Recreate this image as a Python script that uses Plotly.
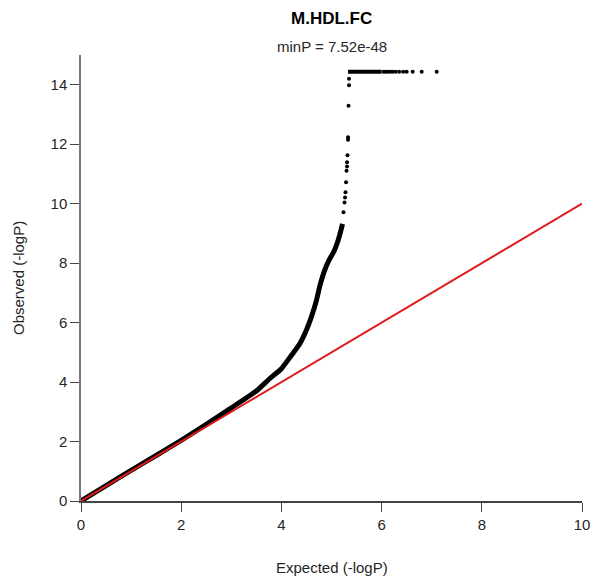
import plotly.graph_objects as go

# Dense part of the QQ curve (expected, observed)
band_expected = [0.0, 0.5, 1.0, 1.5, 2.0, 2.5, 3.0, 3.5, 3.77, 4.0, 4.2, 4.37, 4.5, 4.6, 4.7, 4.77, 4.85, 4.95, 5.05, 5.12, 5.18, 5.22]
band_observed = [0.0, 0.52, 1.03, 1.53, 2.04, 2.58, 3.13, 3.7, 4.12, 4.45, 4.9, 5.3, 5.75, 6.2, 6.75, 7.25, 7.7, 8.1, 8.4, 8.7, 9.05, 9.32]

# Sparse points in the steep tail
tail_expected = [5.24, 5.26, 5.27, 5.28, 5.29, 5.30, 5.31, 5.31, 5.32, 5.33, 5.33, 5.34, 5.35, 5.35]
tail_observed = [9.71, 10.04, 10.21, 10.38, 10.72, 11.11, 11.25, 11.39, 11.63, 12.15, 12.23, 13.29, 13.98, 14.2]

# Capped plateau
cap_value = 14.44
plateau_dense_expected = [5.33, 6.0]
plateau_sparse_expected = [6.04, 6.08, 6.12, 6.17, 6.22, 6.28, 6.35, 6.43, 6.5, 6.62, 6.8, 7.1]

ref_line = [0, 10]

title_text = "M.HDL.FC"
subtitle_text = "minP = 7.52e-48"
x_title = "Expected (-logP)"
y_title = "Observed (-logP)"
x_ticks = [0, 2, 4, 6, 8, 10]
y_ticks = [0, 2, 4, 6, 8, 10, 12, 14]

FONT = "Liberation Sans, Arial, sans-serif"
TXT = "#262626"
FS = 15

fig = go.Figure()
fig.add_trace(go.Scatter(x=band_expected, y=band_observed, mode="lines",
                         line=dict(color="black", width=5, shape="spline", smoothing=0.5),
                         cliponaxis=False, hoverinfo="skip"))
fig.add_trace(go.Scatter(x=plateau_dense_expected, y=[cap_value] * len(plateau_dense_expected), mode="lines",
                         line=dict(color="black", width=4), cliponaxis=False))
fig.add_trace(go.Scatter(x=plateau_sparse_expected, y=[cap_value] * len(plateau_sparse_expected), mode="markers",
                         marker=dict(color="black", size=4), cliponaxis=False))
fig.add_trace(go.Scatter(x=tail_expected, y=tail_observed, mode="markers",
                         marker=dict(color="black", size=4), cliponaxis=False))
fig.add_trace(go.Scatter(x=ref_line, y=ref_line, mode="lines",
                         line=dict(color="#e01818", width=2), cliponaxis=False))

fig.update_layout(
    width=594, height=583,
    margin=dict(l=81, r=12, t=55, b=82, autoexpand=False),
    paper_bgcolor="white", plot_bgcolor="white",
    showlegend=False,
    font=dict(family=FONT, size=FS, color=TXT),
    annotations=[
        dict(text="<b>" + title_text + "</b>", x=0.5, xref="paper", y=1, yref="paper",
             yanchor="middle", yshift=37, showarrow=False, font=dict(size=17, color="black")),
        dict(text=subtitle_text, x=0.5, xref="paper", y=1, yref="paper",
             yanchor="middle", yshift=9, showarrow=False, font=dict(size=FS)),
        dict(text=x_title, x=0.5, xref="paper", y=0, yref="paper",
             yanchor="middle", yshift=-66, showarrow=False, font=dict(size=FS)),
        dict(text=y_title, x=0, xref="paper", y=0.5, yref="paper", textangle=-90,
             xanchor="center", xshift=-63, showarrow=False, font=dict(size=FS)),
    ],
)
fig.update_xaxes(range=[0, 10], tickvals=x_ticks, ticks="outside", ticklen=9, tickwidth=1.2,
                 tickcolor="#444", showline=True, linecolor="#444", linewidth=1.5,
                 showgrid=False, zeroline=False, automargin=False, tickfont=dict(size=FS),
                 ticklabeloverflow="allow")
fig.update_yaxes(range=[0, 15], tickvals=y_ticks, ticks="outside", ticklen=9, tickwidth=1.2,
                 tickcolor="#444", showline=True, linecolor="#777", linewidth=1.5,
                 showgrid=False, zeroline=False, automargin=False, tickfont=dict(size=FS))

fig.write_html(
    "out.html",
    config={"displayModeBar": False},
    post_script="document.body.style.margin='0';document.body.style.overflow='hidden';",
)
